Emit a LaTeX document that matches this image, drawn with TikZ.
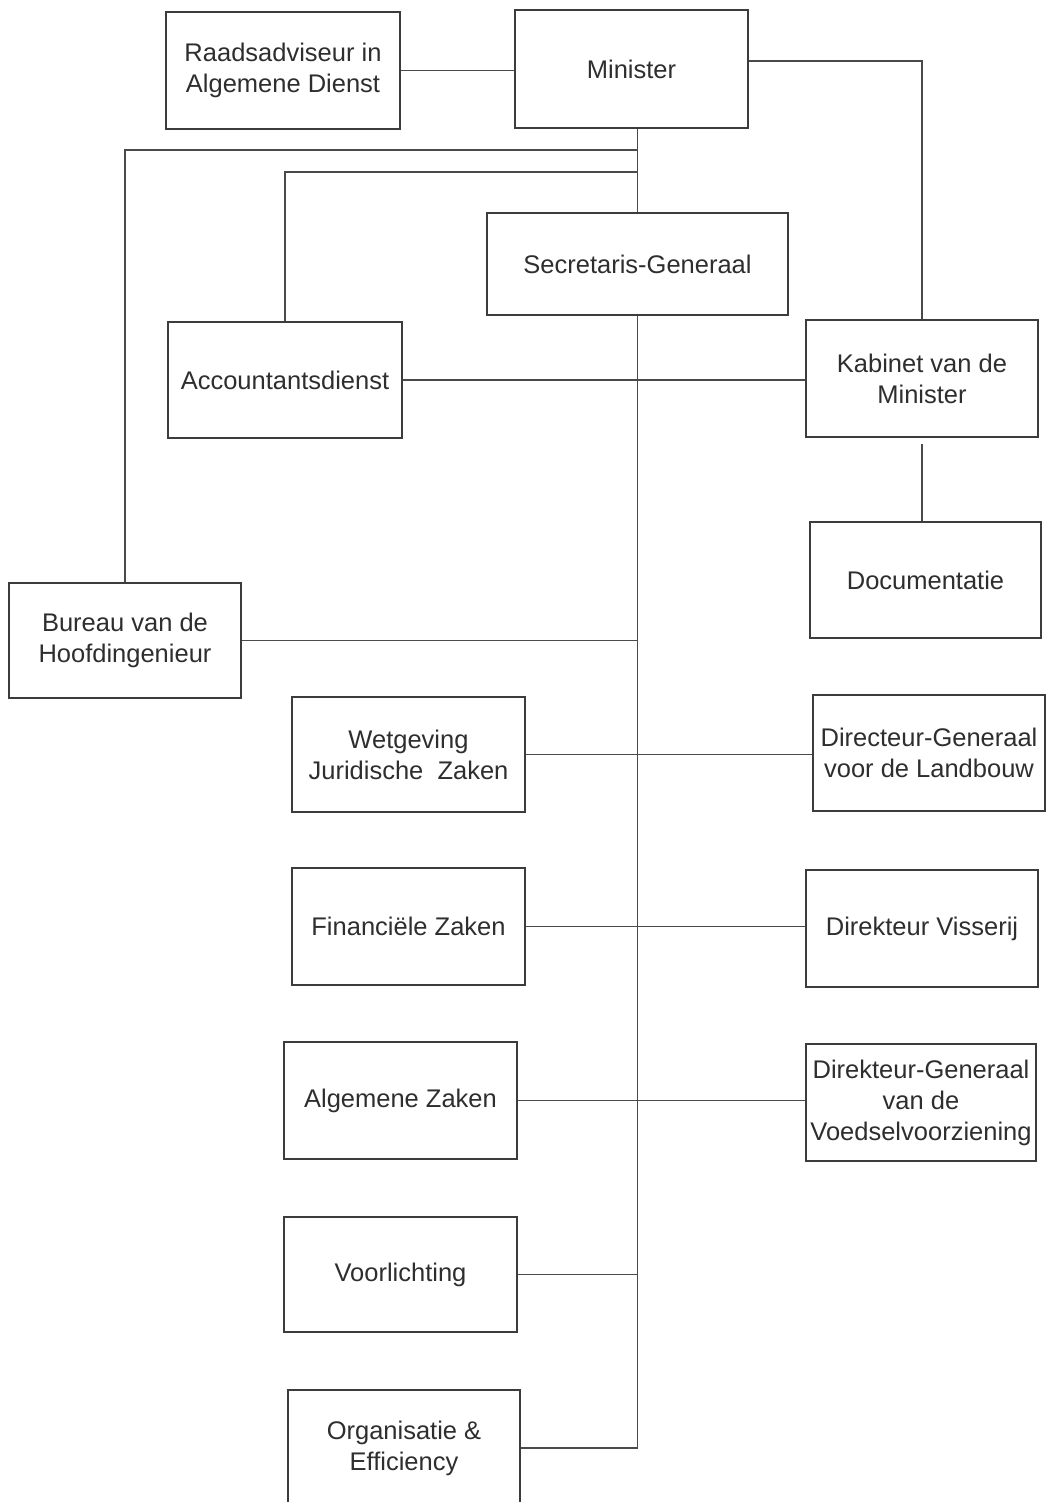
\documentclass[tikz,border=0pt]{standalone}
\usepackage{fontspec}
\setmainfont{Liberation Sans}
\definecolor{boxc}{HTML}{3C3C3C}
\definecolor{linec}{HTML}{4A4A4A}
\definecolor{txtc}{HTML}{2E2E2E}
\begin{document}
\begin{tikzpicture}[x=1pt,y=-1pt,
  unit/.style={draw=boxc, line width=2.4pt, inner sep=0pt, align=center,
    text=txtc, font=\fontsize{25.5}{31}\selectfont},
  conn/.style={draw=linec, line width=1.4pt}]
\useasboundingbox (0,0) rectangle (1048,1502);
\clip (0,0) rectangle (1048,1502);
\newcommand{\ubox}[6]{\node[unit, minimum width={#4-#2}, minimum height={#5-#3}] (#1) at ({(#2+#4)/2},{(#3+#5)/2}) {#6};}
\ubox{raad}{166}{12}{400}{129}{Raadsadviseur in\\Algemene Dienst}
\ubox{min}{515}{10}{748}{128}{Minister}
\ubox{sec}{487}{213}{788}{315}{Secretaris-Generaal}
\ubox{acc}{168}{322}{402}{438}{Accountantsdienst}
\ubox{kab}{806}{320}{1038}{437}{Kabinet van de\\Minister}
\ubox{doc}{810}{522}{1041}{638}{Documentatie}
\ubox{bur}{9}{583}{241}{698}{Bureau van de\\Hoofdingenieur}
\ubox{wet}{292}{697}{525}{812}{Wetgeving\\Juridische\ \ Zaken}
\ubox{dgl}{813}{695}{1045}{811}{Directeur-Generaal\\voor de Landbouw}
\ubox{fin}{292}{868}{525}{985}{Financiële Zaken}
\ubox{vis}{806}{870}{1038}{987}{Direkteur Visserij}
\ubox{alg}{284}{1042}{517}{1159}{Algemene Zaken}
\ubox{dgv}{806}{1044}{1036}{1161}{Direkteur-Generaal\\van de\\Voedselvoorziening}
\ubox{voo}{284}{1217}{517}{1332}{Voorlichting}
\ubox{org}{288}{1390}{520}{1506}{Organisatie \&\\Efficiency}
\coordinate (h1) at (637,150);
\coordinate (h2) at (637,172);
\draw[conn] (raad.east) -- (raad.east -| min.west);
\draw[conn] ([yshift=8pt]min.east) -| (kab.north);
\draw[conn] (sec.north |- min.south) -- (sec.north);
\draw[conn] (h1) -| (bur.north);
\draw[conn] (h2) -| (acc.north);
\draw[conn] (sec.south) -- (sec.south |- org.east) -- (org.east);
\draw[conn] (acc.east) -- (acc.east -| kab.west);
\draw[conn] ([yshift=-6pt]kab.south) -- (kab.south |- doc.north);
\draw[conn] (bur.east) -- (bur.east -| sec.south);
\draw[conn] (wet.east) -- (wet.east -| dgl.west);
\draw[conn] (fin.east) -- (fin.east -| vis.west);
\draw[conn] (alg.east) -- (alg.east -| dgv.west);
\draw[conn] (voo.east) -- (voo.east -| sec.south);
\end{tikzpicture}
\end{document}
